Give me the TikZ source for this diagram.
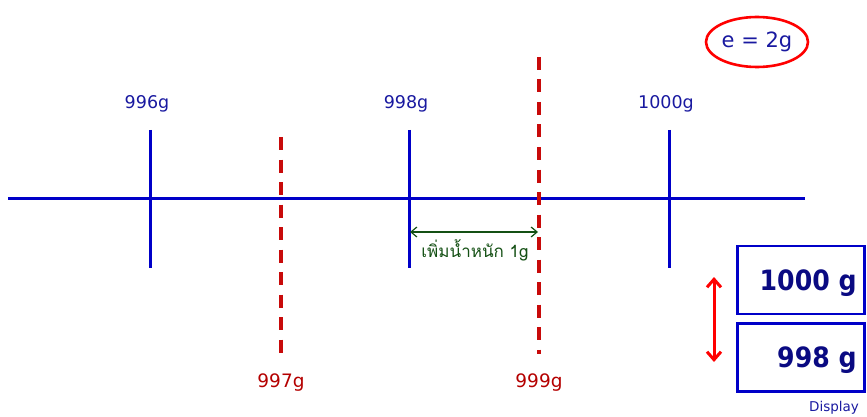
\documentclass[tikz,border=0pt]{standalone}
\usepackage{fontspec}
\setmainfont{DejaVu Sans}
\newfontfamily\thaifont[Script=Thai]{Loma}
\newfontfamily\lcdfont{DejaVu Sans Condensed Bold}
\usetikzlibrary{positioning,arrows.meta,shapes.geometric}
\definecolor{axisblue}{RGB}{0,0,200}
\definecolor{labelblue}{RGB}{25,25,160}
\definecolor{dashred}{RGB}{200,10,10}
\definecolor{labelred}{RGB}{180,0,0}
\definecolor{stepgreen}{RGB}{20,80,20}
\definecolor{lcdblue}{RGB}{10,10,130}

\begin{document}
\begin{tikzpicture}[x=1pt, y=-1pt, >=Stealth,
    tickline/.style={draw=axisblue, line width=3pt},
    halfline/.style={draw=dashred, line width=3.4pt, dash pattern=on 13pt off 9.5pt},
    bluelabel/.style={text=labelblue, font=\fontsize{17.5}{20}\selectfont, inner sep=0pt},
    redlabel/.style={text=labelred, font=\fontsize{18.5}{21}\selectfont, inner sep=0pt},
    lcdbox/.style={draw=axisblue, line width=2.6pt, minimum width=127pt, minimum height=68pt, inner sep=0pt}]
    \useasboundingbox (0,0) rectangle (867,417);

    % axis
    \coordinate (axL) at (8,198);
    \coordinate (axR) at (805,198);
    \draw[tickline] (axL) -- (axR);

    % scale divisions (e = 2g)
    \foreach \name/\x/\val in {a/150/996g, b/409/998g, c/669/1000g} {
        \coordinate (\name top) at (\x,130);
        \coordinate (\name bot) at (\x,268);
        \draw[tickline] (\name top) -- (\name bot);
        \node[bluelabel] (\name lab) at (\x-3,104) {\val};
    }

    % intermediate weights
    \coordinate (dtop) at (281,137);
    \coordinate (dbot) at (281,354);
    \coordinate (etop) at (539,57);
    \coordinate (ebot) at (539,354);
    \draw[halfline] (dtop) -- (dbot);
    \draw[halfline] (etop) -- (ebot);
    \node[redlabel] (dlab) at (281,383) {997g};
    \node[redlabel] (elab) at (539,383) {999g};

    % added weight
    \coordinate (addL) at (410,232);
    \coordinate (addR) at (538,232);
    \draw[<->, draw=stepgreen, line width=1.2pt, >={Straight Barb[length=6pt,width=10pt]}] (addL) -- (addR);
    \node[text=stepgreen, font=\thaifont\fontsize{17}{20}\selectfont, inner sep=0pt] (addlab) at (475,250) {เพิ่มน้ำหนัก 1g};

    % verification interval
    \node[ellipse, draw=red, line width=2.6pt, minimum width=102pt, minimum height=50pt, bluelabel, font=\fontsize{21}{24}\selectfont] (einfo) at (757,42) {e = 2g};

    % display readings
    \node[lcdbox] (disp1) at (801,280) {};
    \node[lcdbox, below=7pt of disp1] (disp2) {};
    \node[text=lcdblue, font=\lcdfont\fontsize{28}{30}\selectfont, anchor=east, inner sep=0pt] (read1) at ([xshift=-9pt,yshift=-3pt]disp1.east) {1000 g};
    \node[text=lcdblue, font=\lcdfont\fontsize{28}{30}\selectfont, anchor=east, inner sep=0pt] (read2) at ([xshift=-9pt,yshift=-3pt]disp2.east) {998 g};
    \node[text=labelblue, font=\fontsize{13.5}{16}\selectfont, inner sep=0pt] (disptext) at (834,408) {Display};

    \coordinate (jumpT) at (714,277);
    \coordinate (jumpB) at (714,362);
    \draw[<->, draw=red, line width=3pt, >={Straight Barb[length=8pt,width=14pt]}] (jumpT) -- (jumpB);
\end{tikzpicture}
\end{document}
